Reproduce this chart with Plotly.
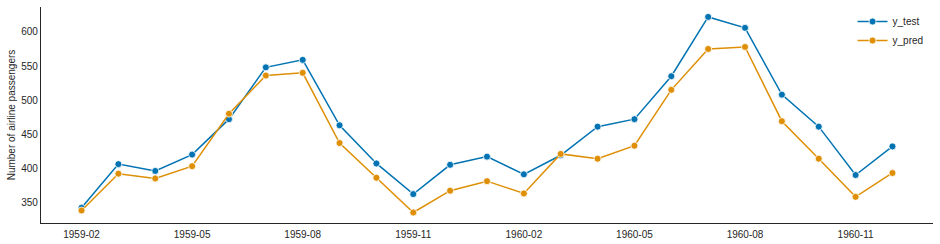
import plotly.graph_objects as go

periods = ["1959-02", "1959-03", "1959-04", "1959-05", "1959-06", "1959-07", "1959-08",
           "1959-09", "1959-10", "1959-11", "1959-12", "1960-01", "1960-02", "1960-03",
           "1960-04", "1960-05", "1960-06", "1960-07", "1960-08", "1960-09", "1960-10",
           "1960-11", "1960-12"]
y_test = [342, 406, 396, 420, 472, 548, 559, 463, 407, 362, 405, 417, 391, 419,
          461, 472, 535, 622, 606, 508, 461, 390, 432]
y_pred = [338, 392, 385, 403, 480, 536, 540, 437, 386, 335, 367, 381, 363, 421,
          414, 433, 515, 575, 578, 469, 414, 358, 393]
tick_labels = periods[::3]

BLUE = "#0173b2"
ORANGE = "#de8f05"

fig = go.Figure()
for name, vals, col in [("y_test", y_test, BLUE), ("y_pred", y_pred, ORANGE)]:
    fig.add_trace(go.Scatter(
        x=periods, y=vals, name=name, mode="lines+markers",
        line=dict(color=col, width=1.5),
        marker=dict(color=col, size=7, line=dict(color="white", width=0.8)),
    ))

font = "Liberation Sans, Arial, sans-serif"
fig.update_layout(
    width=940, height=244,
    margin=dict(l=41, r=7, t=7, b=21, autoexpand=False),
    paper_bgcolor="white", plot_bgcolor="white",
    font=dict(family=font, size=10, color="#262626"),
    showlegend=True,
    legend=dict(x=0.995, xanchor="right", y=1.0, yanchor="top",
                bgcolor="rgba(0,0,0,0)", font=dict(size=10, color="#262626"),
                tracegroupgap=0, itemwidth=30),
)
fig.update_xaxes(
    type="category", range=[-1.1, 22 + 1.1],
    tickvals=tick_labels, ticktext=tick_labels,
    showgrid=False, zeroline=False, showline=True,
    linecolor="#262626", linewidth=1.25, ticks="", ticklabelstandoff=2,
)
fig.update_yaxes(
    range=[319.6, 636.6], tickvals=[350, 400, 450, 500, 550, 600],
    showgrid=False, zeroline=False, showline=True,
    linecolor="#262626", linewidth=1.25, ticks="",
    title=dict(text="Number of airline passengers", font=dict(size=10), standoff=3),
)
fig.write_html("out.html")
